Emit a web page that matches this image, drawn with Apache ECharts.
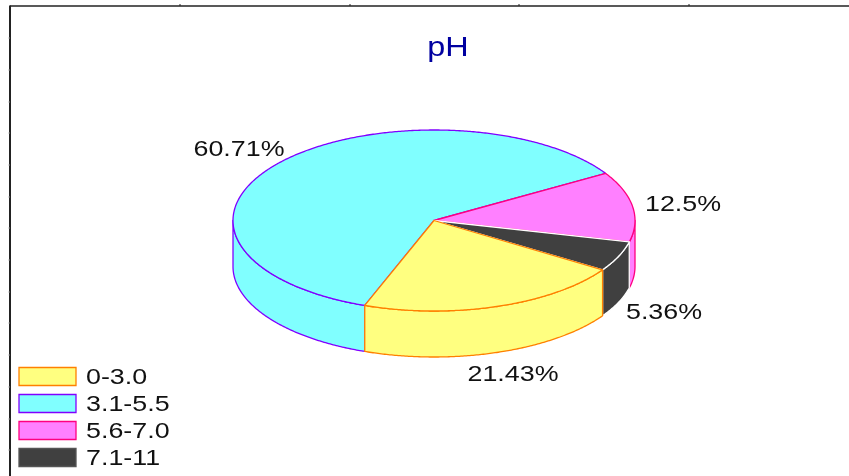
<!DOCTYPE html>
<html>
<head>
<meta charset="utf-8">
<title>pH</title>
<style>
  html, body { margin: 0; padding: 0; background: #fff; }
  #chart { width: 849px; height: 476px; }
</style>
<script src="https://cdn.jsdelivr.net/npm/echarts@6/dist/echarts.min.js"></script>
</head>
<body>
<div id="chart"></div>
<script>
const chartTitle = 'pH'
const categories = ['0-3.0', '3.1-5.5', '5.6-7.0', '7.1-11']
const percents = [21.43, 60.71, 12.5, 5.36]
const percentLabels = ['21.43%', '60.71%', '12.5%', '5.36%']

const fills = ['#ffff80', '#80ffff', '#ff80ff', '#404040']
const strokes = ['#ff8000', '#8000ff', '#ff0080', '#ffffff']
const labelAt = [[513, 375], [239, 150], [683, 205], [664, 313]]
const drawOrder = [1, 2, 3, 0]

// pie geometry, the source picture is an oblique 3d pie
const cx = 434, cy = 220.5, rx = 201, ry = 90.5, depth = 46
const startDeg = 33
const fontStretch = 1.22
const textFont = '22px "Liberation Sans", Arial, sans-serif'

const total = percents.reduce((a, b) => a + b, 0)
const ends = []
percents.reduce((acc, v, i) => (ends[i] = acc + v, ends[i]), 0)

const rim = (deg, dy = 0) => {
  const r = deg * Math.PI / 180
  return [cx + rx * Math.cos(r), cy + ry * Math.sin(r) + dy]
}

const arcPoints = (from, to, dy = 0) => {
  const pts = []
  const n = Math.max(2, Math.ceil(Math.abs(to - from) * 2))
  for (let i = 0; i <= n; i++) pts.push(rim(from + (to - from) * i / n, dy))
  return pts
}

// slices run clockwise on screen from startDeg, in legend order
const sliceRange = (i) => {
  const before = i === 0 ? 0 : ends[i - 1]
  return [startDeg + before / total * 360, startDeg + ends[i] / total * 360]
}

// only the part of the rim facing the viewer gets a wall
const frontParts = (a, b) => {
  const parts = []
  for (let k = 0; k <= 1; k++) {
    const lo = Math.max(a, k * 360), hi = Math.min(b, k * 360 + 180)
    if (hi > lo) parts.push([lo, hi])
  }
  return parts
}

const stretchedText = (text, x, y, color, font, align = 'center') => ({
  type: 'text', x, y, scaleX: fontStretch,
  style: { text, x: 0, y: 0, fill: color, font, textAlign: align, textVerticalAlign: 'middle' },
})

const renderSlice = (params, api) => {
  const i = api.value(0)
  const [a, b] = sliceRange(i)
  const style = { fill: fills[i], stroke: strokes[i], lineWidth: 1.3, lineJoin: 'round' }
  const walls = frontParts(a, b).map(([lo, hi]) => ({
    type: 'polygon',
    shape: { points: arcPoints(lo, hi).concat(arcPoints(hi, lo, depth)) },
    style,
  }))
  const top = {
    type: 'polygon',
    shape: { points: [[cx, cy]].concat(arcPoints(a, b)) },
    style,
  }
  const rowY = 377 + i * 27
  const swatch = {
    type: 'rect',
    shape: { x: 19, y: rowY - 9.5, width: 57, height: 18 },
    style: { fill: fills[i], stroke: i === 3 ? '#555' : strokes[i], lineWidth: 1.3 },
  }
  return {
    type: 'group',
    children: walls.concat([
      top,
      stretchedText(percentLabels[i], labelAt[i][0], labelAt[i][1], '#111', textFont),
      swatch,
      stretchedText(categories[i], 86, rowY + 1, '#111', textFont, 'left'),
    ]),
  }
}

const frameLine = (x1, y1, x2, y2, lineWidth = 1.5, stroke = '#222') => ({
  type: 'line', shape: { x1, y1, x2, y2 }, style: { stroke, lineWidth },
})

const topTicks = [180, 350, 519, 689]
const leftTicks = [38, 70, 102, 133, 165, 197, 228, 260, 292, 323, 355, 387, 419, 450]

const chart = echarts.init(document.getElementById('chart'), null, { renderer: 'canvas' })
chart.setOption({
  backgroundColor: '#fff',
  animation: false,
  tooltip: { show: false },
  graphic: [
    frameLine(10, 6, 849, 6),
    frameLine(10, 5.5, 10, 476, 2),
    ...topTicks.map((x) => frameLine(x, 4, x, 6, 1)),
    ...leftTicks.map((y) => frameLine(8.5, y, 10, y, 1, '#888')),
    { type: 'text', x: 448, y: 49, scaleX: 1.2,
      style: { text: chartTitle, x: 0, y: 0, fill: '#0000a0', font: '27px "Liberation Sans", Arial, sans-serif', textAlign: 'center', textVerticalAlign: 'middle' } },
  ],
  series: drawOrder.map((i) => ({
    type: 'custom',
    name: categories[i],
    coordinateSystem: 'none',
    silent: true,
    data: [[i, percents[i]]],
    renderItem: renderSlice,
  })),
})
window.addEventListener('resize', () => chart.resize())
</script>
</body>
</html>
